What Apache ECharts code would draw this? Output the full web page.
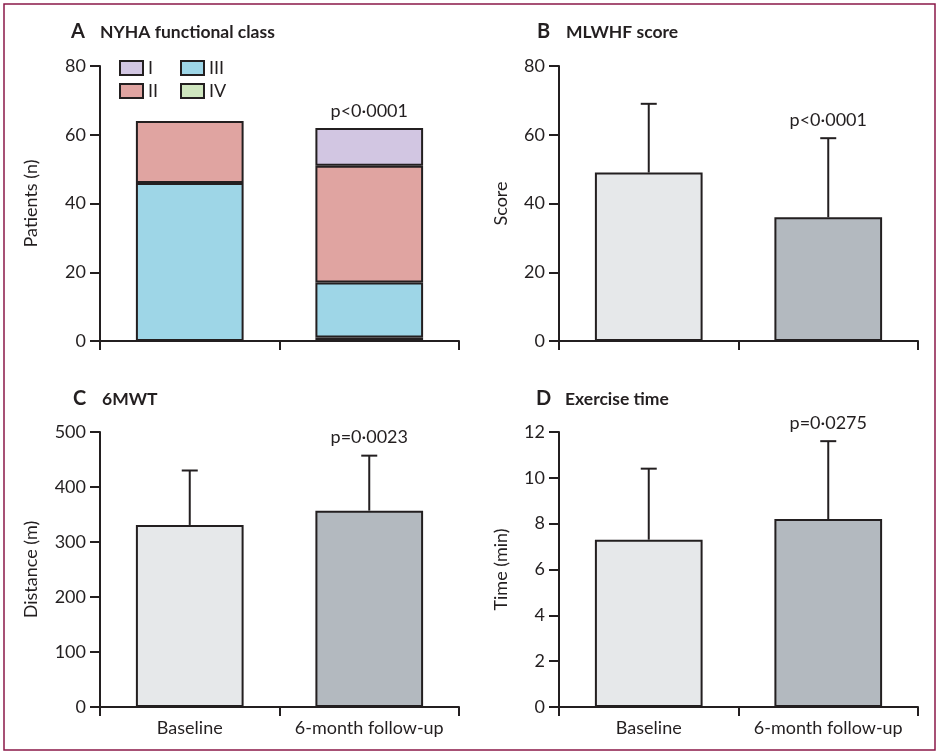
<!DOCTYPE html>
<html><head><meta charset="utf-8">
<script src="https://cdn.jsdelivr.net/npm/echarts@6/dist/echarts.min.js"></script>
<style>html,body{margin:0;padding:0;background:#fff}#c{width:940px;height:754px}</style>
</head><body><div id="c"></div>
<script>
// ---- data ----
const categories = ['Baseline', '6-month follow-up'];
// Panel A: NYHA class counts
const nyhaI   = [0, 11];
const nyhaII  = [18, 34];
const nyhaIII = [46, 16];
const nyhaIV  = [0, 1];
const pA = 'p<0·0001';
// Panel B: MLWHF score
const mlwhfMean = [49, 36];
const mlwhfSD   = [20, 23];
const pB = 'p<0·0001';
// Panel C: 6MWT
const walkMean = [331, 357];
const walkSD   = [99, 100];
const pC = 'p=0·0023';
// Panel D: exercise time
const exMean = [7.3, 8.2];
const exSD   = [3.1, 3.4];
const pD = 'p=0·0275';

const FONT = 'Lato';
const FS = 18;
const INK = '#231f20';
const colI = '#d2c6e2', colII = '#e0a4a1', colIII = '#9ed6e7', colIV = '#cfe6bf';
const barColors = ['#e6e8ea', '#b3b9bf'];

const grids = [
  {left: 100, right: 481, top: 66, bottom: 413},
  {left: 559, right: 22, top: 66, bottom: 413},
  {left: 100, right: 481, top: 432, bottom: 47},
  {left: 559, right: 22, top: 432, bottom: 47}
];

function xAx(i, showLabels) {
  return {
    type: 'category', gridIndex: i, data: categories,
    axisLine: {lineStyle: {color: INK, width: 2}},
    axisTick: {show: true, length: 9, lineStyle: {color: INK, width: 2}},
    axisLabel: {show: showLabels, interval: 0, hideOverlap: false, color: INK, fontSize: FS, fontFamily: FONT, margin: 12}
  };
}
function yAx(i, max, interval, name, gap) {
  return {
    type: 'value', gridIndex: i, min: 0, max: max, interval: interval,
    name: name, nameLocation: 'middle', nameGap: gap,
    nameTextStyle: {color: INK, fontSize: FS, fontFamily: FONT},
    axisLine: {show: true, lineStyle: {color: INK, width: 2}},
    axisTick: {show: true, length: 10, lineStyle: {color: INK, width: 2}},
    axisLabel: {color: INK, fontSize: FS, fontFamily: FONT, margin: 14},
    splitLine: {show: false}
  };
}

function errSeries(i, mean, sd, pText) {
  const data = mean.map((m, k) => [k, m, m + sd[k]]);
  return [
    {
      type: 'bar', xAxisIndex: i, yAxisIndex: i, barWidth: '60%',
      data: mean.map((m, k) => ({value: m, itemStyle: {color: barColors[k]}})),
      itemStyle: {borderColor: INK, borderWidth: 2},
      z: 2
    },
    {
      type: 'custom', xAxisIndex: i, yAxisIndex: i, z: 3,
      data: data,
      renderItem: function (params, api) {
        const x = api.value(0);
        const p0 = api.coord([x, api.value(1)]);
        const p1 = api.coord([x, api.value(2)]);
        const half = 8;
        const children = [
          {type: 'line', shape: {x1: p0[0], y1: p0[1], x2: p1[0], y2: p1[1]}, style: {stroke: INK, lineWidth: 2}},
          {type: 'line', shape: {x1: p1[0] - half, y1: p1[1], x2: p1[0] + half, y2: p1[1]}, style: {stroke: INK, lineWidth: 2}}
        ];
        if (params.dataIndex === 1) {
          children.push({type: 'text', style: {text: pText, x: p1[0], y: p1[1] - 18, align: 'center', verticalAlign: 'middle', fill: INK, fontSize: FS, fontFamily: FONT}});
        }
        return {type: 'group', children: children};
      }
    }
  ];
}

function stackBar(name, vals, color, label) {
  return {
    name: name, type: 'bar', stack: 'nyha', xAxisIndex: 0, yAxisIndex: 0, barWidth: '60%',
    itemStyle: {color: color, borderColor: INK, borderWidth: 2},
    data: vals.map((v, k) => {
      const o = {value: v === 0 ? '-' : v};
      if (label && k === 1) o.label = {show: true, position: 'top', distance: 8, formatter: label, color: INK, fontSize: FS, fontFamily: FONT};
      return o;
    })
  };
}

function titleItem(letter, text, left, top) {
  return {
    left: left, top: top, padding: 0,
    text: '{l|' + letter + '}{t|' + text + '}',
    textStyle: {
      rich: {
        l: {fontSize: 20, fontFamily: FONT, fontWeight: 'bold', color: INK, width: 29},
        t: {fontSize: 17.5, fontFamily: FONT, fontWeight: 'bold', color: INK}
      }
    }
  };
}

function legendItem(name, left, top) {
  return {
    left: left, top: top, data: [name],
    itemWidth: 23, itemHeight: 14, padding: 0,
    icon: 'rect',
    itemStyle: {borderColor: INK, borderWidth: 2},
    textStyle: {color: INK, fontSize: FS, fontFamily: FONT},
    selectedMode: false
  };
}

const option = {
  animation: false,
  backgroundColor: '#fff',
  title: [
    titleItem('A', 'NYHA functional class', 71, 22),
    titleItem('B', 'MLWHF score', 537, 22),
    titleItem('C', '6MWT', 73, 389),
    titleItem('D', 'Exercise time', 536, 389)
  ],
  legend: [
    legendItem('I', 119, 59),
    legendItem('III', 180, 59),
    legendItem('II', 119, 82),
    legendItem('IV', 180, 82)
  ],
  grid: grids,
  xAxis: [xAx(0, false), xAx(1, false), xAx(2, true), xAx(3, true)],
  yAxis: [
    yAx(0, 80, 20, 'Patients (n)', 60),
    yAx(1, 80, 20, 'Score', 49),
    yAx(2, 500, 100, 'Distance (m)', 60),
    yAx(3, 12, 2, 'Time (min)', 49)
  ],
  series: [
    stackBar('IV', nyhaIV, colIV),
    stackBar('III', nyhaIII, colIII),
    stackBar('II', nyhaII, colII),
    stackBar('I', nyhaI, colI, pA)
  ].concat(
    errSeries(1, mlwhfMean, mlwhfSD, pB),
    errSeries(2, walkMean, walkSD, pC),
    errSeries(3, exMean, exSD, pD)
  ),
  graphic: [{
    type: 'rect', shape: {x: 4, y: 4, width: 931, height: 746},
    style: {fill: 'none', stroke: '#8a1848', lineWidth: 1.5}, silent: true
  }]
};

const chart = echarts.init(document.getElementById('c'), null, {renderer: 'canvas'});
chart.setOption(option);
</script></body></html>
